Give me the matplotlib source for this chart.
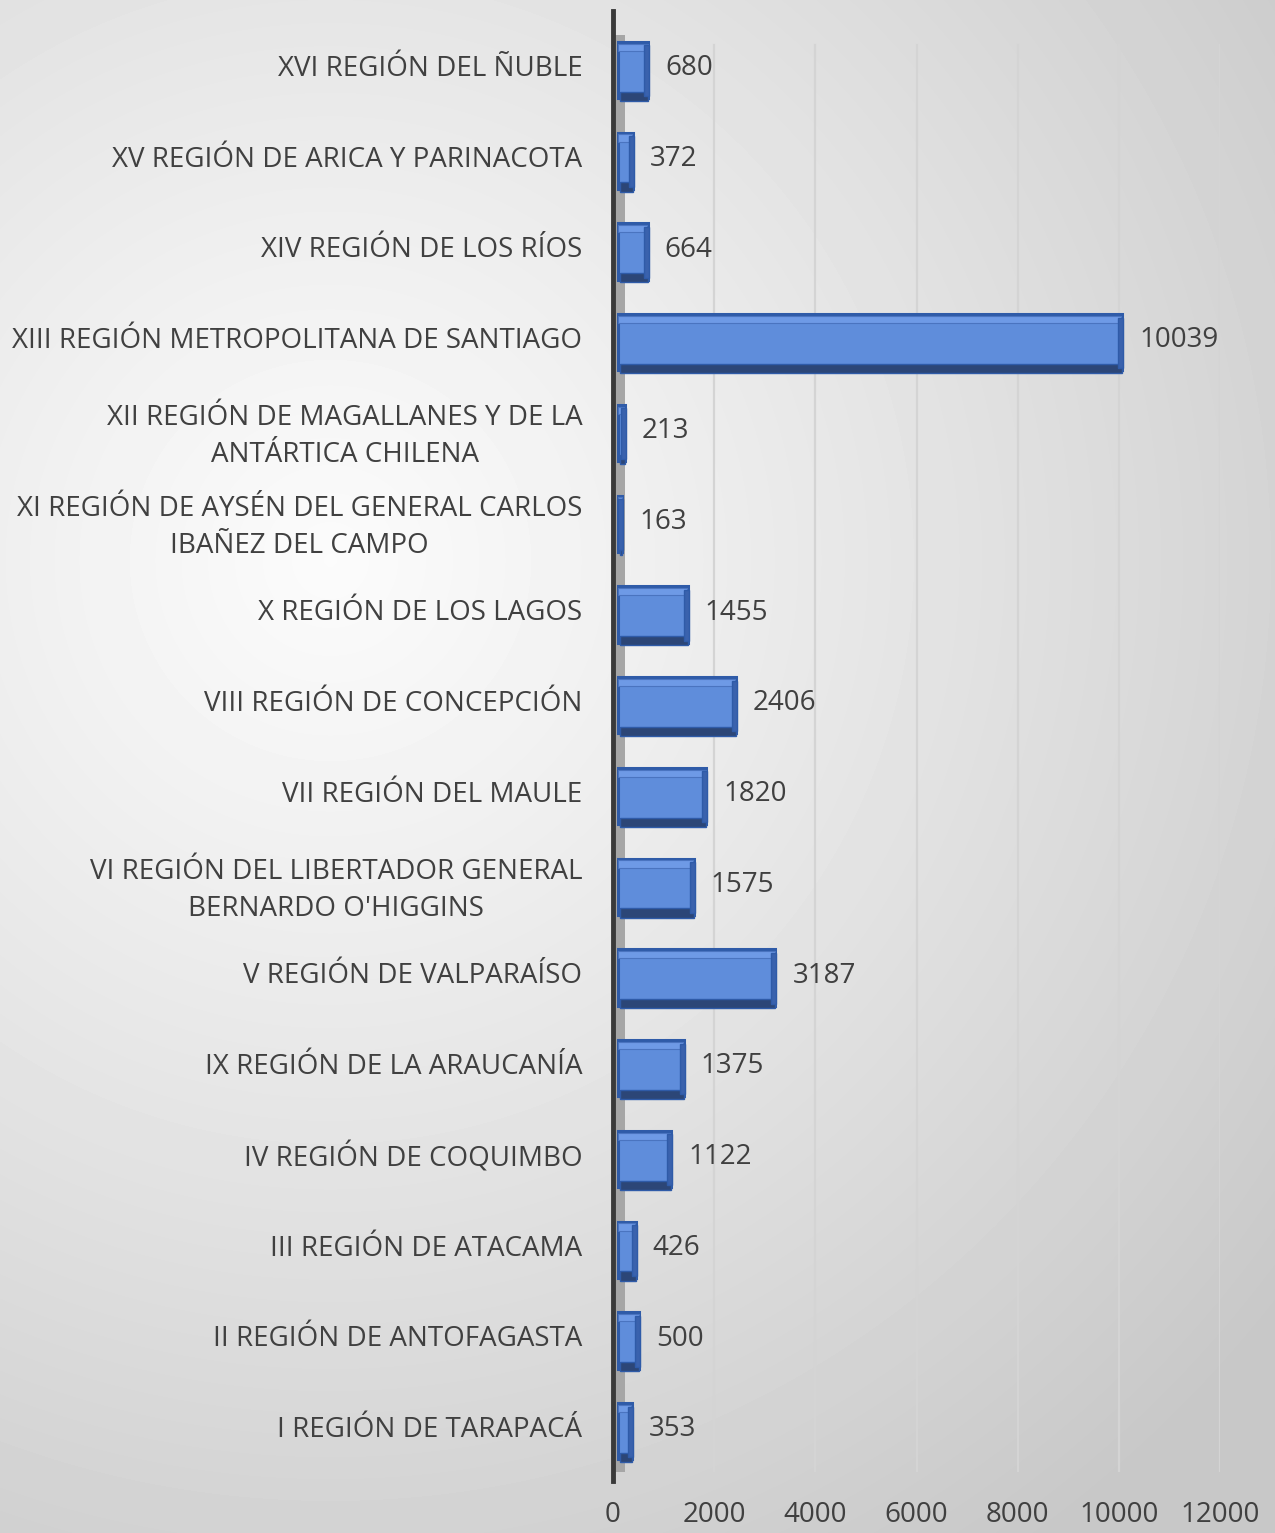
import matplotlib
matplotlib.use("Agg")
import matplotlib.pyplot as plt
import numpy as np
from matplotlib.patches import Rectangle
import matplotlib.transforms as mtransforms

categories = [
    "I REGIÓN DE TARAPACÁ",
    "II REGIÓN DE ANTOFAGASTA",
    "III REGIÓN DE ATACAMA",
    "IV REGIÓN DE COQUIMBO",
    "IX REGIÓN DE LA ARAUCANÍA",
    "V REGIÓN DE VALPARAÍSO",
    "VI REGIÓN DEL LIBERTADOR GENERAL\nBERNARDO O'HIGGINS",
    "VII REGIÓN DEL MAULE",
    "VIII REGIÓN DE CONCEPCIÓN",
    "X REGIÓN DE LOS LAGOS",
    "XI REGIÓN DE AYSÉN DEL GENERAL CARLOS\nIBAÑEZ DEL CAMPO",
    "XII REGIÓN DE MAGALLANES Y DE LA\nANTÁRTICA CHILENA",
    "XIII REGIÓN METROPOLITANA DE SANTIAGO",
    "XIV REGIÓN DE LOS RÍOS",
    "XV REGIÓN DE ARICA Y PARINACOTA",
    "XVI REGIÓN DEL ÑUBLE",
]
values = [353, 500, 426, 1122, 1375, 3187, 1575, 1820, 2406, 1455, 163, 213, 10039, 664, 372, 680]
xticks = [0, 2000, 4000, 6000, 8000, 10000, 12000]

plt.rcParams['font.family'] = ['Open Sans', 'DejaVu Sans']
W, H = 1275, 1533
fig = plt.figure(figsize=(W / 100, H / 100), dpi=100)

# background radial gradient
bg = fig.add_axes([0, 0, 1, 1], zorder=-10)
yy, xx = np.mgrid[0:H, 0:W]
d = np.sqrt((xx - 330) ** 2 + (yy - 560) ** 2)
t = np.clip(d / 1200.0, 0, 1) ** 1.1
light, dark = 0.985, 0.785
img = light + (dark - light) * t
bg.imshow(img, cmap='gray', vmin=0, vmax=1, aspect='auto', extent=[0, 1, 0, 1], interpolation='bilinear')
bg.set_axis_off()

top_px, bot_px = 20, 1472
ax = fig.add_axes([613 / W, 1 - bot_px / H, (1220 - 613) / W, (bot_px - top_px) / H])
ax.set_facecolor('none')
ax.set_xlim(0, 12000)
ax.set_ylim(-0.5, len(categories) - 0.5)

# gridlines
for xv in xticks[1:]:
    ax.axvline(xv, ymin=-0.005, ymax=0.983, color='#d4d4d4', lw=1.6, zorder=0)

# wall shadow strip
ax.add_patch(Rectangle((0, -0.01), 240, 1.0, transform=mtransforms.blended_transform_factory(ax.transData, ax.transAxes),
                       facecolor='#a6a6a6', edgecolor='none', zorder=1))

y = np.arange(len(categories))
h = 0.62
x0 = 90
for yi, v in zip(y, values):
    yc = yi - 0.05
    # main front face
    ax.add_patch(Rectangle((x0, yc - h / 2), v - x0 + 20, h, facecolor='#5f8ddb', edgecolor='#2f5ba8', lw=2.2, zorder=3))
    # top bevel highlight
    ax.add_patch(Rectangle((x0 + 10, yc + h / 2 - 0.1), v - x0, 0.08, facecolor='#6e9ae6', edgecolor='#4a74c0', lw=0.8, zorder=4))
    # bottom dark face
    ax.add_patch(Rectangle((x0 + 40, yc - h / 2 - 0.03), v - x0 - 20, 0.1, facecolor='#2c4677', edgecolor='#2f5ba8', lw=1.0, zorder=4))
    # right side dark face
    ax.add_patch(Rectangle((v - 60, yc - h / 2 + 0.02), 100, h - 0.06, facecolor='#3a62ad', edgecolor='#2f5ba8', lw=1.0, zorder=4))
    ax.text(v + 360, yi - 0.03, f"{v}", ha='left', va='center', fontsize=20, color='#404040', zorder=5)

ax.set_yticks(y)
ax.set_yticklabels(categories, fontsize=20, color='#404040', linespacing=1.45)
for lab in ax.get_yticklabels():
    lab.set_multialignment('center')
ax.set_xticks(xticks)
ax.set_xticklabels([str(v) for v in xticks], fontsize=20, color='#404040')
ax.tick_params(axis='y', length=0, pad=22)
ax.tick_params(axis='x', length=0, pad=21)

for s in ['top', 'right', 'bottom']:
    ax.spines[s].set_visible(False)
ax.spines['left'].set_color('#3a3a3a')
ax.spines['left'].set_linewidth(3.5)
ax.spines['left'].set_bounds(-0.6, len(categories) - 0.5 + 0.1)

fig.savefig('out.png', dpi=100)
